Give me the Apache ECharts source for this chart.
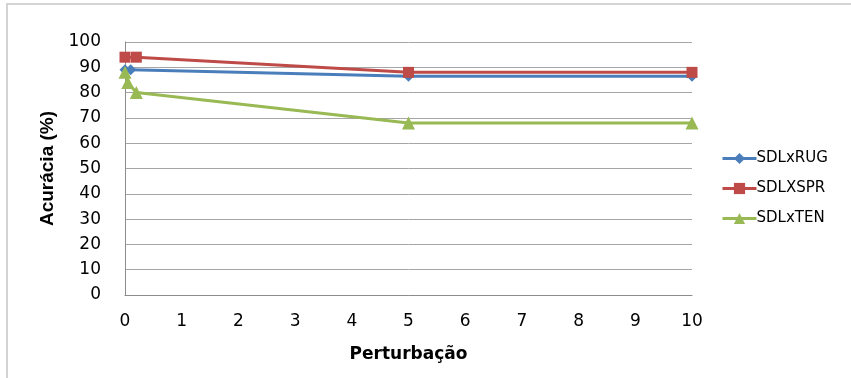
<!DOCTYPE html>
<html>
<head>
<meta charset="utf-8">
<script src="https://cdn.jsdelivr.net/npm/echarts@6/dist/echarts.min.js"></script>
<style>
  html, body { margin: 0; padding: 0; background: #fff; }
  #chart { width: 851px; height: 378px; }
</style>
</head>
<body>
<div id="chart"></div>
<script>
// Perturbation levels and accuracy (%) for each pairing
const rugX = [0, 0.1, 5, 10];
const rugY = [89, 89, 86.5, 86.5];
const sprX = [0, 0.2, 5, 10];
const sprY = [94, 94, 88, 88];
const tenX = [0, 0.05, 0.2, 5, 10];
const tenY = [88, 84, 80, 68, 68];
const xTicks = [0, 1, 2, 3, 4, 5, 6, 7, 8, 9, 10];
const yTicks = [0, 10, 20, 30, 40, 50, 60, 70, 80, 90, 100];

const pairs = (xs, ys) => xs.map((x, i) => [x, ys[i]]);

const chart = echarts.init(document.getElementById('chart'));
const font = '"DejaVu Sans", Verdana, sans-serif';

chart.setOption({
  animation: false,
  backgroundColor: '#fff',
  graphic: [{
    type: 'rect',
    shape: { x: 7, y: 4, width: 900, height: 420 },
    style: { fill: 'none', stroke: '#d4d4d4', lineWidth: 2 },
    silent: true,
    z: -1
  }],
  grid: { left: 125, right: 159, top: 42, bottom: 83 },
  xAxis: {
    type: 'value',
    min: xTicks[0], max: xTicks[xTicks.length - 1], interval: 1,
    name: 'Perturbação',
    nameLocation: 'middle',
    nameGap: 51,
    nameTextStyle: { fontFamily: font, fontWeight: 'bold', fontSize: 17, color: '#000' },
    axisLine: { lineStyle: { color: '#8c8c8c', width: 1 } },
    axisTick: { show: false },
    splitLine: { show: false },
    axisLabel: { fontFamily: font, fontSize: 17, color: '#000', margin: 18 }
  },
  yAxis: {
    type: 'value',
    min: yTicks[0], max: yTicks[yTicks.length - 1], interval: 10,
    name: 'Acurácia (%)',
    nameLocation: 'middle',
    nameGap: 68,
    nameRotate: 90,
    nameTextStyle: { fontFamily: '"Liberation Sans", Arial, sans-serif', fontWeight: 'bold', fontSize: 19, color: '#000' },
    axisLine: { show: true, lineStyle: { color: '#8c8c8c', width: 1 } },
    axisTick: { show: false },
    splitLine: { lineStyle: { color: '#a6a6a6', width: 1 } },
    axisLabel: { fontFamily: font, fontSize: 17, color: '#000', margin: 24 }
  },
  legend: {
    orient: 'vertical',
    left: 716,
    top: 146,
    itemWidth: 34,
    itemHeight: 14,
    itemGap: 15,
    lineStyle: { width: 3 },
    textStyle: { fontFamily: font, fontSize: 15, color: '#000', padding: [0, 0, 0, -5] },
    data: ['SDLxRUG', 'SDLXSPR', 'SDLxTEN']
  },
  series: [
    {
      name: 'SDLxRUG', type: 'line',
      data: pairs(rugX, rugY),
      color: '#4a7ebb',
      lineStyle: { width: 3 },
      symbol: 'diamond', symbolSize: 11,
      itemStyle: { color: '#4a7ebb' }
    },
    {
      name: 'SDLXSPR', type: 'line',
      data: pairs(sprX, sprY),
      color: '#be4b48',
      lineStyle: { width: 3 },
      symbol: 'rect', symbolSize: 11,
      itemStyle: { color: '#be4b48' }
    },
    {
      name: 'SDLxTEN', type: 'line',
      data: pairs(tenX, tenY),
      color: '#98b954',
      lineStyle: { width: 3 },
      symbol: 'triangle', symbolSize: 13,
      itemStyle: { color: '#98b954' }
    }
  ]
});
</script>
</body>
</html>
